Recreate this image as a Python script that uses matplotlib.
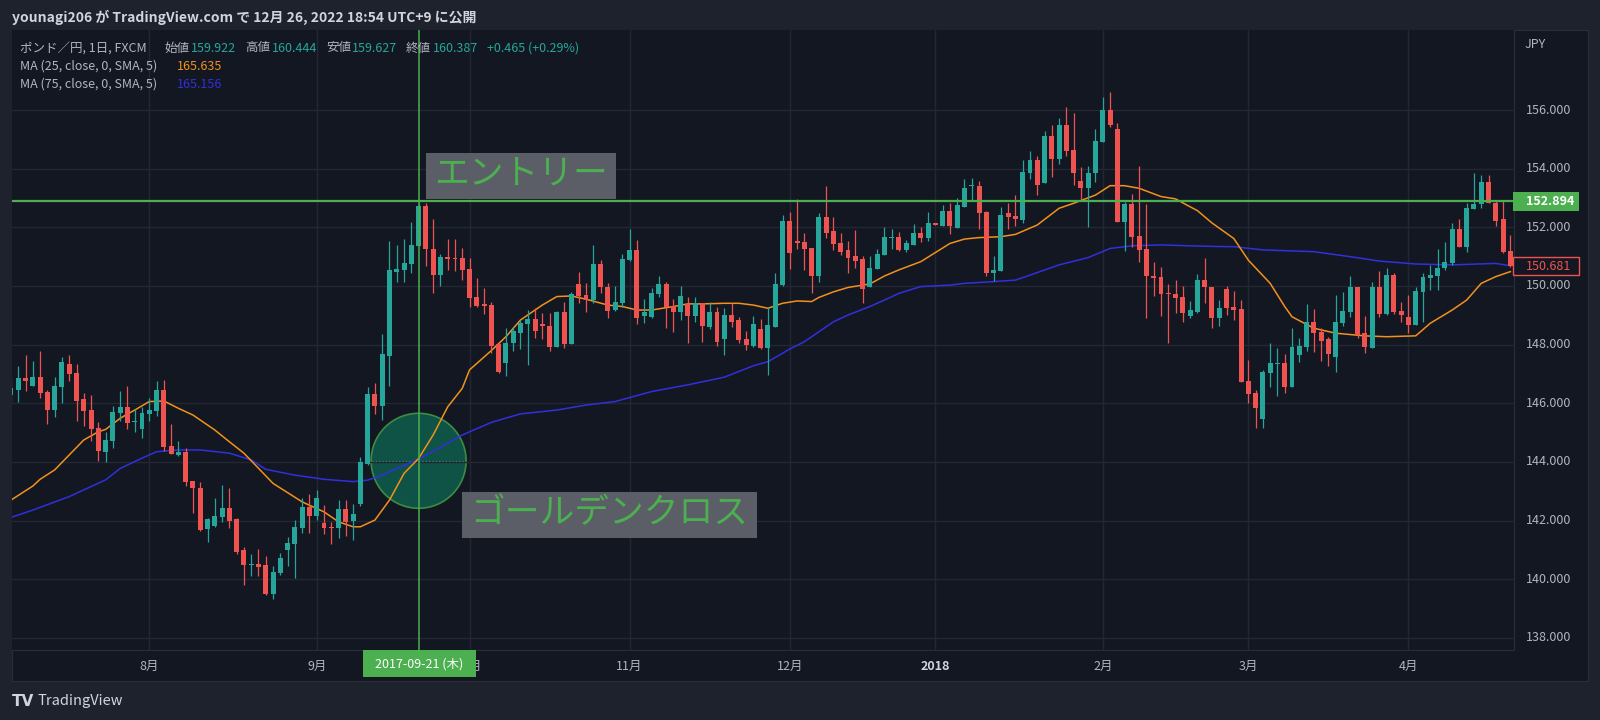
import numpy as np
import pandas as pd
import matplotlib
matplotlib.use('Agg')
import matplotlib.pyplot as plt
from matplotlib.patches import Ellipse, Rectangle
from matplotlib.transforms import blended_transform_factory

plt.rcParams['font.family'] = ['Noto Sans CJK JP', 'DejaVu Sans']

# daily candles GBP/JPY (FXCM), 2017-07-05 .. 2018-04-20
opens = [146.28, 146.45, 146.85, 146.60, 146.89, 146.40, 145.77, 146.57, 147.34, 147.02,
         146.14, 145.77, 145.17, 144.35, 144.73, 145.68, 145.89, 145.35, 145.13, 145.64,
         145.74, 146.45, 144.56, 144.24, 144.33, 143.35, 143.10, 141.70, 141.80, 142.14,
         142.42, 142.05, 141.00, 140.49, 140.52, 140.49, 139.49, 140.20, 140.99, 141.22,
         141.74, 142.45, 142.16, 141.93, 141.79, 141.74, 142.38, 141.99, 142.57, 143.93,
         146.32, 145.91, 147.62, 150.49, 150.54, 150.75, 151.36, 152.72, 151.25, 150.37,
         151.00, 150.97, 150.94, 150.57, 149.61, 149.37, 149.35, 148.02, 147.36, 148.05,
         148.41, 148.69, 148.86, 148.69, 148.65, 147.93, 149.10, 148.02, 150.06, 149.69,
         149.52, 150.75, 149.98, 149.18, 149.41, 150.89, 151.23, 148.98, 148.93, 149.72,
         150.07, 149.32, 149.13, 149.39, 148.98, 149.41, 148.61, 149.13, 148.18, 149.01,
         148.84, 148.18, 147.97, 148.53, 147.90, 148.61, 150.03, 152.22, 151.51, 151.51,
         151.28, 150.34, 152.36, 151.87, 151.48, 151.23, 151.02, 150.91, 149.98, 150.57,
         151.06, 151.63, 151.66, 151.23, 151.40, 151.82, 151.63, 152.14, 152.05, 152.56,
         151.99, 152.70, 153.40, 153.41, 152.51, 150.45, 150.51, 152.48, 152.39, 152.25,
         153.86, 154.30, 153.52, 155.11, 154.33, 155.49, 154.64, 153.58, 153.33, 153.84,
         154.92, 156.00, 155.35, 152.17, 152.78, 151.70, 151.26, 150.34, 150.32, 149.77,
         149.73, 149.63, 148.99, 149.13, 150.20, 149.98, 148.90, 149.89, 149.27, 149.22,
         146.76, 146.34, 145.47, 147.02, 147.34, 147.36, 146.57, 147.65, 147.93, 148.76,
         148.44, 148.18, 147.57, 148.75, 149.10, 149.95, 148.39, 147.88, 149.95, 149.05,
         150.37, 149.16, 148.95, 148.67, 149.81, 150.28, 150.34, 150.60, 150.77, 151.94,
         151.32, 152.62, 152.78, 153.56, 152.82, 152.27, 151.20]
highs = [146.82, 147.27, 147.65, 147.44, 147.78, 146.45, 146.89, 147.57, 147.65, 147.34,
         146.34, 146.28, 145.35, 145.03, 145.91, 146.42, 146.59, 145.80, 145.86, 146.17,
         146.76, 146.80, 145.30, 144.72, 144.47, 143.35, 143.33, 142.08, 142.76, 143.22,
         143.10, 142.08, 141.09, 140.85, 141.03, 140.80, 140.45, 140.88, 141.45, 142.02,
         142.76, 142.91, 143.04, 142.53, 141.96, 142.70, 142.70, 142.57, 144.18, 146.57,
         146.68, 148.36, 151.53, 151.40, 151.60, 152.17, 152.82, 152.82, 152.27, 151.09,
         151.60, 151.60, 151.28, 150.97, 150.26, 149.92, 149.44, 148.10, 148.56, 148.61,
         148.84, 149.18, 149.24, 149.07, 149.07, 149.16, 149.47, 149.81, 150.49, 150.09,
         151.40, 150.89, 150.09, 150.00, 151.09, 151.93, 151.57, 149.54, 149.92, 150.34,
         150.15, 149.54, 150.00, 149.64, 149.64, 149.43, 149.44, 149.30, 149.24, 149.41,
         148.95, 148.48, 148.98, 148.86, 149.27, 150.45, 152.42, 152.51, 152.97, 151.82,
         151.28, 152.50, 153.41, 152.36, 151.80, 151.53, 151.91, 151.02, 151.02, 151.26,
         152.02, 151.93, 151.85, 151.57, 152.11, 152.00, 152.53, 152.14, 152.76, 152.82,
         152.99, 153.64, 153.67, 153.59, 152.57, 151.02, 152.70, 152.82, 153.10, 154.30,
         154.60, 154.43, 155.28, 155.49, 155.74, 156.09, 155.89, 154.05, 154.09, 155.35,
         156.45, 156.63, 155.55, 152.87, 153.14, 154.09, 152.80, 150.83, 150.64, 150.07,
         150.20, 150.00, 149.50, 150.41, 150.94, 149.98, 149.52, 150.01, 149.83, 149.52,
         147.48, 146.45, 147.14, 148.04, 147.88, 147.67, 148.56, 148.22, 149.39, 149.20,
         148.56, 148.27, 149.69, 149.81, 150.34, 149.95, 148.98, 150.14, 150.52, 150.60,
         150.43, 149.47, 149.69, 149.98, 150.43, 150.71, 151.25, 151.51, 152.14, 152.27,
         152.84, 153.84, 153.78, 153.78, 152.93, 152.93, 151.74]
lows = [146.00, 146.06, 146.42, 146.60, 146.19, 145.28, 145.55, 146.02, 146.76, 145.41,
        145.24, 144.73, 144.05, 144.01, 144.47, 145.38, 145.13, 145.01, 144.83, 145.41,
        145.58, 144.39, 144.26, 144.20, 143.18, 142.27, 141.63, 141.28, 141.78, 141.97,
        141.74, 140.86, 139.81, 140.11, 140.11, 139.47, 139.32, 140.14, 140.45, 140.03,
        141.57, 141.57, 142.02, 141.53, 141.20, 141.40, 141.49, 141.34, 142.50, 143.90,
        145.63, 145.43, 146.60, 150.14, 150.12, 150.43, 151.36, 150.68, 149.77, 150.00,
        150.54, 150.51, 150.20, 149.29, 149.29, 149.04, 147.70, 147.02, 146.94, 147.78,
        147.84, 147.31, 148.22, 148.18, 147.78, 147.91, 147.88, 148.02, 149.41, 149.12,
        149.41, 149.77, 148.90, 149.16, 149.30, 150.86, 148.69, 148.73, 148.90, 149.64,
        148.56, 148.44, 148.84, 148.07, 148.78, 148.10, 148.52, 147.95, 147.65, 148.59,
        148.05, 147.82, 147.91, 147.85, 146.97, 148.61, 150.00, 150.57, 151.25, 150.55,
        149.77, 150.15, 151.62, 151.23, 151.06, 150.45, 150.62, 149.43, 149.98, 150.57,
        151.06, 151.25, 151.19, 151.17, 151.40, 151.51, 151.55, 152.08, 152.05, 151.76,
        151.97, 152.68, 152.91, 151.94, 150.34, 150.17, 150.51, 151.93, 152.05, 152.14,
        153.64, 153.10, 153.50, 153.73, 154.15, 154.43, 153.44, 152.93, 152.00, 153.56,
        154.90, 155.43, 152.17, 151.21, 151.34, 150.83, 148.90, 149.66, 148.98, 148.05,
        149.07, 148.78, 148.90, 149.07, 149.41, 148.56, 148.64, 149.01, 148.84, 146.74,
        146.00, 145.15, 145.15, 146.57, 146.25, 146.34, 146.57, 147.42, 147.80, 147.76,
        147.45, 147.27, 147.06, 148.64, 148.95, 148.22, 147.70, 147.88, 148.95, 149.01,
        149.05, 148.78, 148.39, 148.67, 148.78, 149.86, 149.86, 150.54, 150.72, 151.32,
        151.17, 152.62, 152.65, 152.82, 152.06, 151.11, 150.66]
closes = [146.51, 146.85, 146.76, 146.89, 146.34, 145.77, 146.59, 147.42, 146.99, 146.09,
          145.74, 145.13, 144.39, 144.75, 145.72, 145.89, 145.34, 145.39, 145.68, 145.77,
          146.45, 144.52, 144.26, 144.33, 143.33, 143.10, 141.68, 142.05, 142.16, 142.42,
          142.00, 140.94, 140.49, 140.52, 140.43, 139.49, 140.24, 140.71, 141.24, 141.77,
          142.45, 142.16, 142.76, 141.76, 141.74, 142.38, 141.96, 142.22, 144.01, 146.32,
          145.91, 147.67, 150.54, 150.58, 150.79, 151.40, 152.72, 151.25, 150.37, 151.00,
          150.92, 150.91, 150.54, 149.58, 149.33, 149.33, 147.97, 147.08, 148.05, 148.47,
          148.73, 148.86, 148.47, 148.65, 147.93, 149.10, 148.02, 149.73, 149.66, 149.52,
          150.75, 149.98, 149.16, 149.44, 150.92, 151.23, 148.92, 149.10, 149.75, 150.07,
          149.30, 149.13, 149.66, 148.98, 149.41, 148.64, 149.10, 148.10, 149.01, 148.78,
          148.16, 147.99, 148.70, 147.90, 148.67, 150.06, 152.22, 151.11, 151.48, 151.26,
          150.34, 152.36, 151.82, 151.42, 151.17, 150.97, 150.86, 149.89, 150.60, 151.09,
          151.66, 151.68, 151.23, 151.45, 151.82, 151.63, 152.16, 152.08, 152.56, 152.05,
          152.76, 153.33, 153.41, 152.48, 150.45, 150.55, 152.42, 152.36, 152.27, 153.90,
          154.30, 153.44, 155.11, 154.33, 155.49, 154.61, 153.84, 153.33, 153.86, 154.94,
          156.00, 155.49, 152.17, 152.78, 151.66, 151.23, 150.34, 150.28, 149.73, 149.73,
          149.58, 149.07, 149.18, 150.20, 149.95, 148.90, 149.24, 149.26, 149.18, 146.74,
          146.31, 145.83, 147.08, 147.36, 147.39, 146.57, 147.93, 147.95, 148.78, 148.41,
          148.14, 147.68, 148.76, 149.16, 149.95, 148.33, 147.93, 149.95, 149.05, 150.37,
          149.12, 149.01, 148.67, 149.83, 150.32, 150.37, 150.60, 150.81, 151.94, 151.32,
          152.65, 152.79, 153.56, 152.82, 152.22, 151.15, 150.68]

# moving averages read at sampled candles
ma25_idx = [0, 3, 4, 6, 8, 10, 12, 13, 15, 17, 19, 21, 23, 25, 28, 30, 32, 36, 40, 43,
            45, 47, 48, 50, 52, 54, 56, 58, 60, 62, 63, 66, 68, 70, 73, 75, 77, 79, 82, 84,
            86, 88, 91, 93, 95, 98, 100, 102, 104, 106, 108, 110, 111, 113, 115, 118, 120,
            122, 125, 127, 129, 131, 133, 136, 138, 141, 144, 146, 149, 151, 153, 155, 158,
            160, 162, 163, 165, 168, 170, 173, 175, 176, 179, 182, 186, 189, 193, 195, 198,
            200, 202, 204, 206]
ma25_val = [142.70, 143.18, 143.41, 143.73, 144.24, 144.75, 145.03, 145.11, 145.49, 145.77,
            146.06, 146.08, 145.83, 145.60, 145.09, 144.69, 144.30, 143.27, 142.64, 142.30,
            141.96, 141.79, 141.79, 142.02, 142.70, 143.61, 144.12, 144.92, 145.88, 146.51,
            147.14, 147.80, 148.27, 148.84, 149.35, 149.64, 149.66, 149.55, 149.35, 149.30,
            149.18, 149.18, 149.30, 149.39, 149.39, 149.41, 149.41, 149.35, 149.24, 149.41,
            149.49, 149.47, 149.61, 149.80, 149.95, 150.07, 150.34, 150.55, 150.83, 151.14,
            151.45, 151.60, 151.65, 151.68, 151.76, 152.08, 152.65, 152.82, 153.10, 153.42,
            153.42, 153.33, 153.05, 152.97, 152.70, 152.57, 152.15, 151.62, 150.88, 150.09,
            149.30, 148.95, 148.56, 148.39, 148.30, 148.27, 148.30, 148.73, 149.18, 149.52,
            150.09, 150.32, 150.49]
ma75_idx = [0, 3, 8, 13, 15, 18, 20, 23, 26, 30, 33, 35, 39, 43, 47, 49, 51, 53, 56, 59,
            62, 66, 70, 75, 79, 83, 88, 93, 98, 102, 104, 107, 109, 111, 113, 115, 118, 120,
            122, 125, 129, 131, 135, 138, 140, 144, 148, 151, 154, 158, 162, 165, 168, 172,
            179, 184, 188, 193, 198, 204, 206]
ma75_val = [142.11, 142.36, 142.82, 143.39, 143.78, 144.13, 144.35, 144.41, 144.41, 144.30,
            144.07, 143.75, 143.55, 143.41, 143.33, 143.38, 143.55, 143.78, 144.09, 144.50,
            144.92, 145.35, 145.64, 145.77, 145.94, 146.06, 146.40, 146.63, 146.89, 147.28,
            147.42, 147.85, 148.10, 148.44, 148.78, 149.01, 149.30, 149.52, 149.75, 149.98,
            150.03, 150.09, 150.15, 150.20, 150.37, 150.72, 150.97, 151.28, 151.37, 151.40,
            151.37, 151.35, 151.34, 151.23, 151.17, 151.00, 150.85, 150.75, 150.72, 150.77,
            150.69]

price_ticks = [138, 140, 142, 144, 146, 148, 150, 152, 154, 156]
entry_date = '2017-09-21'
entry_label = '2017-09-21 (木)'
entry_price = 152.894
last_price = 150.681
cross_price = 144.04

header = 'younagi206 が TradingView.com で 12月 26, 2022 18:54 UTC+9 に公開'
legend_row1 = [('ポンド／円, 1日, FXCM', 20, 'g'), ('始値', 164, 'g'), ('159.922', 191, 't'),
               ('高値', 245, 'g'), ('160.444', 272, 't'), ('安値', 326, 'g'),
               ('159.627', 352, 't'), ('終値', 406, 'g'), ('160.387', 433, 't'),
               ('+0.465 (+0.29%)', 487, 't')]
ma_labels = ['MA (25, close, 0, SMA, 5)', 'MA (75, close, 0, SMA, 5)']
ma_values = ['165.635', '165.156']

BG = '#131722'
OUTER = '#1e222d'
GRID = '#232733'
TXT = '#b2b5be'
UP = '#26a69a'
DOWN = '#ef5350'
GREEN = '#4caf50'
ORANGE = '#f2911b'
BLUE = '#3030dc'

dates = pd.bdate_range('2017-07-05', '2018-04-20')
dates = dates[dates != pd.Timestamp('2017-12-25')]
n = len(dates)
x = np.arange(n)
o = np.array(opens)
h = np.array(highs)
l = np.array(lows)
c = np.array(closes)

month_idx = [i for i in range(1, n) if dates[i].month != dates[i - 1].month]
month_lab = [str(dates[i].year) if dates[i].month == 1 else f'{dates[i].month}月'
             for i in month_idx]
entry_idx = dates.get_loc(pd.Timestamp(entry_date))

W, H = 1600, 720
fig = plt.figure(figsize=(W / 100, H / 100), dpi=100)
fig.patch.set_facecolor(OUTER)


def fx(px):
    return px / W


def fy(py):
    return 1 - py / H


panel = fig.add_axes([fx(12), fy(681), (1588 - 12) / W, (681 - 30) / H])
panel.set_facecolor(BG)
panel.set_xticks([])
panel.set_yticks([])
for s in panel.spines.values():
    s.set_color('#2a2e39')

ax = fig.add_axes([fx(12), fy(650), (1514 - 12) / W, (650 - 30) / H])
ax.set_facecolor(BG)
ax.set_xlim(0.137, 206.5)
ax.set_ylim(137.589, 158.728)
ax.set_xticks(month_idx)
ax.set_yticks(price_ticks)
ax.grid(color=GRID, lw=1.0)
ax.tick_params(length=0, labelleft=False, labelbottom=False)
for s in ax.spines.values():
    s.set_visible(False)
ax.spines['right'].set_visible(True)
ax.spines['bottom'].set_visible(True)
ax.spines['right'].set_color('#2a2e39')
ax.spines['bottom'].set_color('#2a2e39')

# golden cross circle
ppx = 1502 / (206.5 - 0.137)
ppy = 620 / (158.728 - 137.589)
ax.add_patch(Ellipse((entry_idx, cross_price), 95 / ppx, 95 / ppy,
                     facecolor='#0f5347', edgecolor='#3c8c44', lw=1.2, zorder=1.5))
ax.plot([entry_idx - 6.4, entry_idx + 6.4], [cross_price, cross_price],
        color='#4f7f72', lw=0.8, ls=(0, (1, 2)), zorder=1.6)

# moving averages
ax.plot(ma75_idx, ma75_val, color=BLUE, lw=1.1, zorder=2)
ax.plot(ma25_idx, ma25_val, color=ORANGE, lw=1.1, zorder=2)

# candles
up = c >= o
cols = np.where(up, UP, DOWN)
ax.vlines(x, l, h, colors=cols, lw=0.9, zorder=3)
ax.bar(x, np.maximum(np.abs(c - o), 0.04), bottom=np.minimum(o, c), width=0.68,
       color=cols, linewidth=0, zorder=4)

# entry lines
ax.axhline(entry_price, color=GREEN, lw=1.6, zorder=6)
ax.axvline(entry_idx, color=GREEN, lw=1.1, zorder=6)

# annotation boxes
fig.add_artist(Rectangle((fx(426), fy(199)), 190 / W, 46 / H, transform=fig.transFigure,
                         facecolor='#5b5e66', edgecolor='none', zorder=7))
fig.text(fx(521), fy(175), 'エントリー', color=GREEN, fontsize=25, ha='center',
         va='center', zorder=8)
fig.add_artist(Rectangle((fx(462), fy(538)), 295 / W, 46 / H, transform=fig.transFigure,
                         facecolor='#5b5e66', edgecolor='none', zorder=7))
fig.text(fx(609.5), fy(514), 'ゴールデンクロス', color=GREEN, fontsize=25, ha='center',
         va='center', zorder=8)

# time axis
tx = blended_transform_factory(ax.transData, fig.transFigure)
for i, lab in zip(month_idx, month_lab):
    bold = lab.isdigit()
    fig.text(i, fy(666), lab, transform=tx, ha='center', va='center',
             fontsize=9, color='#d1d4dc' if bold else TXT,
             fontweight='bold' if bold else 'normal')
fig.add_artist(Rectangle((fx(363), fy(677)), 113 / W, 27 / H, transform=fig.transFigure,
                         facecolor=GREEN, edgecolor='none', zorder=7))
fig.text(fx(419.5), fy(664), entry_label, color='white', fontsize=9, ha='center',
         va='center', zorder=8)

# price axis
ty = blended_transform_factory(fig.transFigure, ax.transData)
for p in price_ticks:
    fig.text(fx(1526), p, f'{p:.3f}', transform=ty, ha='left', va='center',
             fontsize=9, color=TXT)
fig.text(fx(1525), fy(44), 'JPY', ha='left', va='center', fontsize=9, color=TXT)
fig.add_artist(Rectangle((fx(1513), fy(211)), 66 / W, 19 / H, transform=fig.transFigure,
                         facecolor=GREEN, edgecolor='none', zorder=7))
fig.text(fx(1526), entry_price, f'{entry_price:.3f}', transform=ty, ha='left',
         va='center', fontsize=9, color='white', fontweight='bold', zorder=8)
fig.add_artist(Rectangle((fx(1513), fy(275)), 66 / W, 18 / H, transform=fig.transFigure,
                         facecolor=BG, edgecolor=DOWN, lw=1, zorder=7))
fig.text(fx(1526), last_price, f'{last_price:.3f}', transform=ty, ha='left',
         va='center', fontsize=9, color=DOWN, zorder=8)

# header and legend
fig.text(fx(12), fy(17), header, ha='left', va='center', fontsize=10,
         color='#d1d4dc', fontweight='bold')
for txt, px, kind in legend_row1:
    fig.text(fx(px), fy(48), txt, ha='left', va='center', fontsize=9,
             color=TXT if kind == 'g' else UP)
for k, (lab, val, col) in enumerate(zip(ma_labels, ma_values, [ORANGE, BLUE])):
    fig.text(fx(20), fy(66 + 18 * k), lab, ha='left', va='center', fontsize=9, color=TXT)
    fig.text(fx(177), fy(66 + 18 * k), val, ha='left', va='center', fontsize=9, color=col)

fig.text(fx(12), fy(701), 'TV', ha='left', va='center', fontsize=11,
         color='#d1d4dc', fontweight='heavy', family='DejaVu Sans')
fig.text(fx(37), fy(701), 'TradingView', ha='left', va='center', fontsize=10.5,
         color='#d1d4dc')

fig.savefig('out.png', dpi=100, facecolor=OUTER)
